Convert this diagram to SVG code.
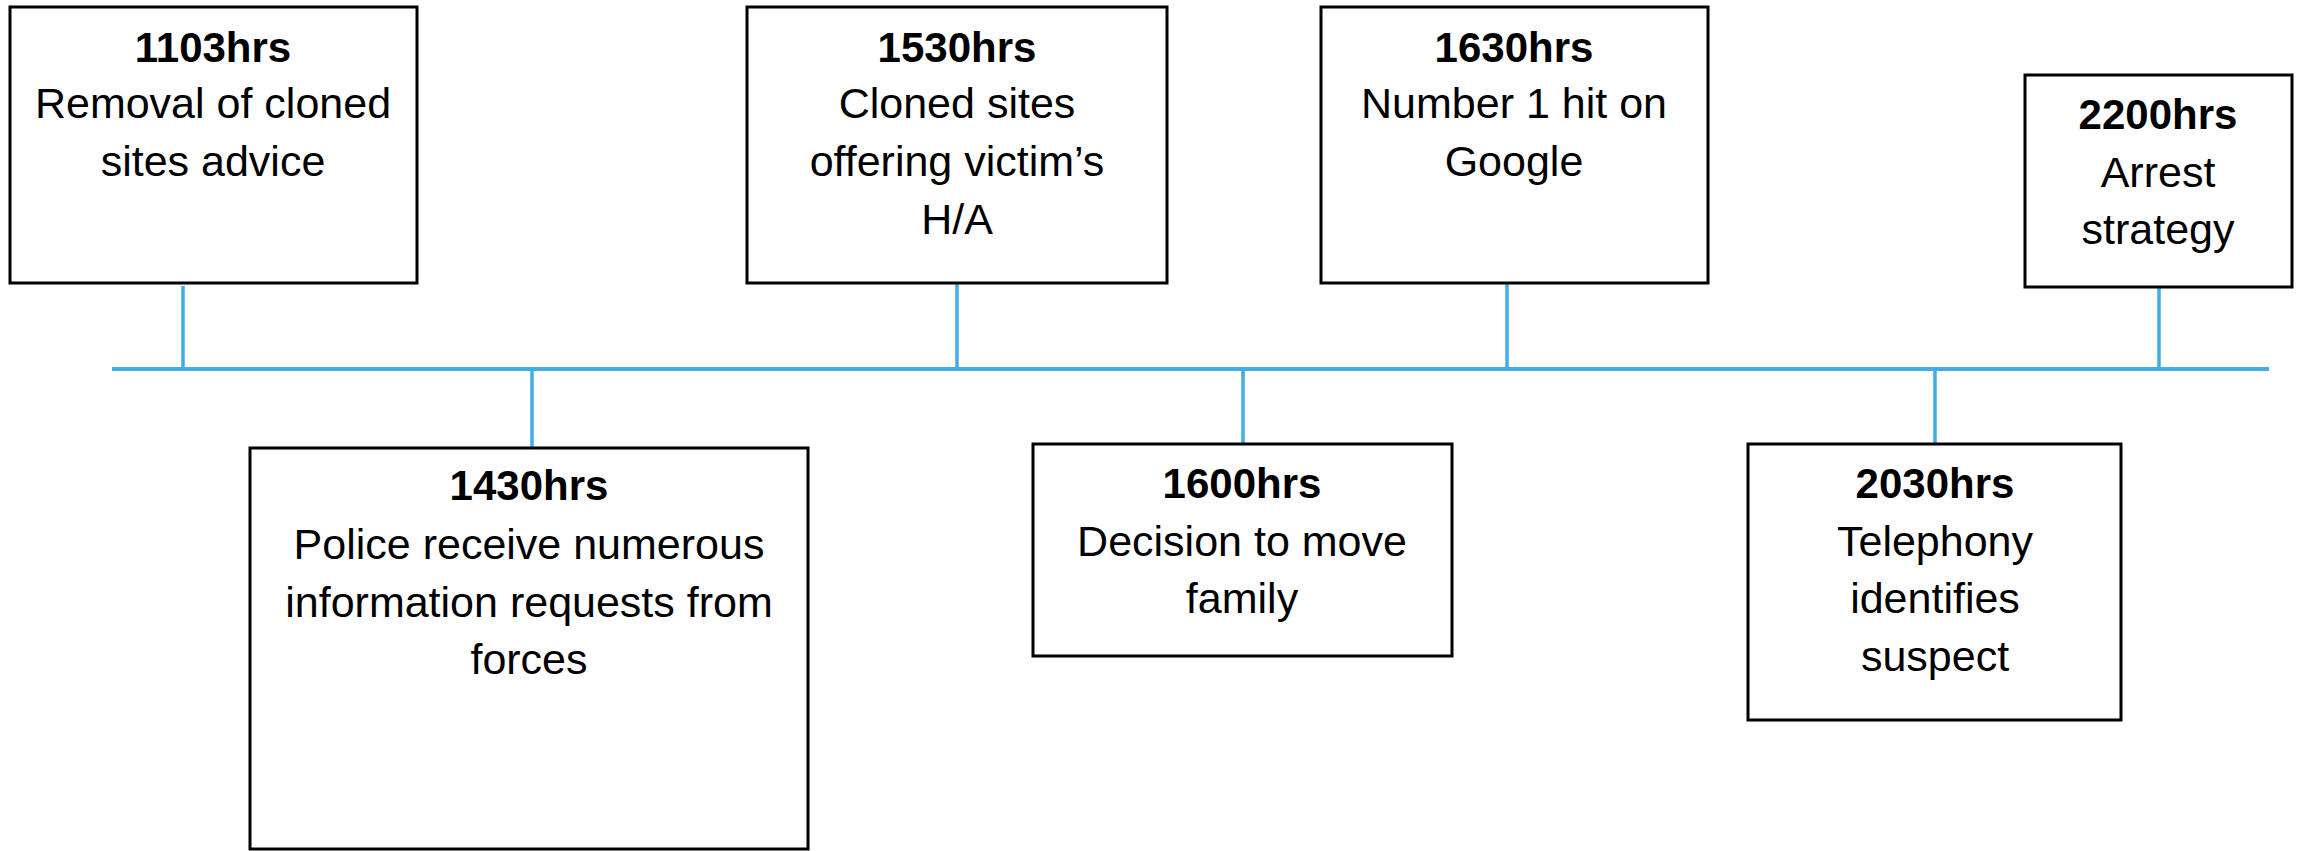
<svg xmlns="http://www.w3.org/2000/svg" width="2303" height="851" viewBox="0 0 2303 851">
<style>
.box{fill:#fff;stroke:#000;stroke-width:3}
.ln{stroke:#41ADE3;stroke-width:4;fill:none}
.st{stroke:#41ADE3;stroke-width:3.5;fill:none}
text{font-family:"Liberation Sans",Arial,sans-serif;font-size:43px;fill:#000;text-anchor:middle}
.b{font-weight:bold;font-size:42px}
</style>
<rect width="2303" height="851" fill="#fff"/>
<g id="connectors">
<line class="ln" x1="112" y1="369" x2="2269" y2="369"/>
<line class="st" x1="183" y1="286" x2="183" y2="369"/>
<line class="st" x1="957" y1="284" x2="957" y2="367"/>
<line class="st" x1="1507" y1="284" x2="1507" y2="367"/>
<line class="st" x1="2159" y1="288" x2="2159" y2="367"/>
<line class="st" x1="532" y1="369" x2="532" y2="447"/>
<line class="st" x1="1243" y1="369" x2="1243" y2="444"/>
<line class="st" x1="1935" y1="369" x2="1935" y2="444"/>
</g>
<g id="n1103">
<rect class="box" x="10" y="7" width="407" height="276"/>
<text x="213" y="62" class="b">1103hrs</text>
<text x="213" y="118">Removal of cloned</text>
<text x="213" y="176">sites advice</text>
</g>
<g id="n1530">
<rect class="box" x="747" y="7" width="420" height="276"/>
<text x="957" y="62" class="b">1530hrs</text>
<text x="957" y="118">Cloned sites</text>
<text x="957" y="176">offering victim’s</text>
<text x="957" y="234">H/A</text>
</g>
<g id="n1630">
<rect class="box" x="1321" y="7" width="387" height="276"/>
<text x="1514" y="62" class="b">1630hrs</text>
<text x="1514" y="118">Number 1 hit on</text>
<text x="1514" y="176">Google</text>
</g>
<g id="n2200">
<rect class="box" x="2025" y="75" width="267" height="212"/>
<text x="2158" y="129" class="b">2200hrs</text>
<text x="2158" y="187">Arrest</text>
<text x="2158" y="244">strategy</text>
</g>
<g id="n1430">
<rect class="box" x="250" y="448" width="558" height="401"/>
<text x="529" y="500" class="b">1430hrs</text>
<text x="529" y="559">Police receive numerous</text>
<text x="529" y="617">information requests from</text>
<text x="529" y="674">forces</text>
</g>
<g id="n1600">
<rect class="box" x="1033" y="444" width="419" height="212"/>
<text x="1242" y="498" class="b">1600hrs</text>
<text x="1242" y="556">Decision to move</text>
<text x="1242" y="613">family</text>
</g>
<g id="n2030">
<rect class="box" x="1748" y="444" width="373" height="276"/>
<text x="1935" y="498" class="b">2030hrs</text>
<text x="1935" y="556">Telephony</text>
<text x="1935" y="613">identifies</text>
<text x="1935" y="671">suspect</text>
</g>
</svg>
